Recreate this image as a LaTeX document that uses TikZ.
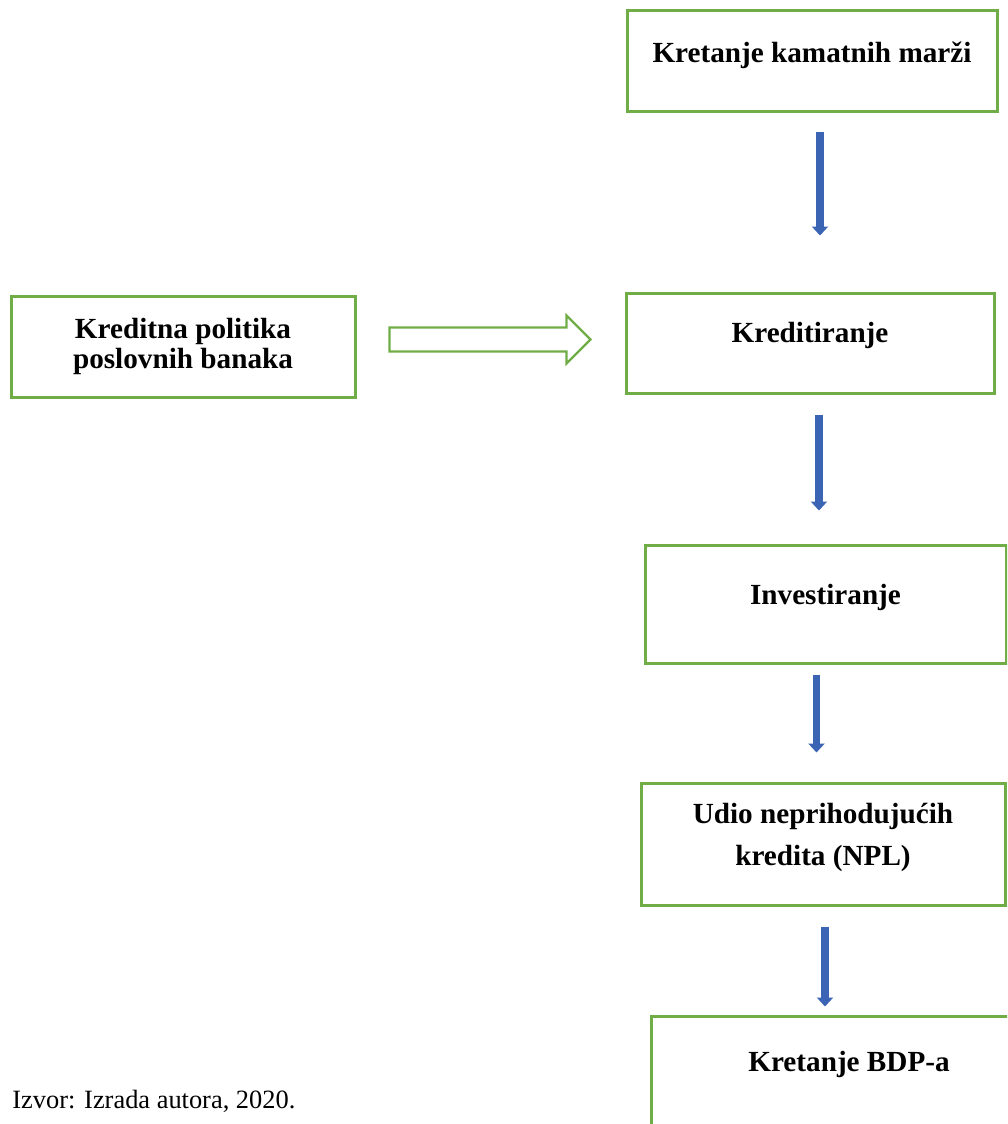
\documentclass[tikz,border=0pt]{standalone}
\usepackage{fontspec}
\setmainfont{Liberation Serif}
\usepackage{xcolor}
\usetikzlibrary{arrows.meta,calc}
\definecolor{boxgreen}{RGB}{112,173,71}
\definecolor{arrblue}{RGB}{60,100,180}

\tikzset{
  flowbox/.style={draw=boxgreen,line width=1.5pt,fill=white,align=center,inner sep=2pt,
    font=\fontsize{14.6}{15}\selectfont\bfseries},
  downarrow/.style={draw=arrblue,line width=3.6pt,-{Triangle[width=8pt,length=4.5pt]}},
  hollowarrow/.style={draw=boxgreen,line width=1.2pt,fill=white,line join=miter}
}

\begin{document}
\begin{tikzpicture}[x=0.5pt,y=-0.5pt]
  \clip (0,0) rectangle (1007,1124);

  % Boxes
  \node[flowbox,minimum width=185pt,minimum height=50.5pt] (marze) at (812,60.5)
    {\raisebox{2.5pt}[\height][\depth]{Kretanje kamatnih marži}};
  \node[flowbox,minimum width=172pt,minimum height=50.5pt] (politika) at (183,346.5) {Kreditna politika\\poslovnih banaka};
  \node[flowbox,minimum width=184pt,minimum height=50pt] (kredit) at (810,343)
    {\raisebox{4pt}[\height][\depth]{Kreditiranje}};
  \node[flowbox,minimum width=180.5pt,minimum height=59pt] (invest) at (825.5,604)
    {\raisebox{3.5pt}[\height][\depth]{Investiranje}};
  \node[flowbox,minimum width=182pt,minimum height=61pt] (npl) at (823,844)
    {\raisebox{3pt}[\height][\depth]{\begin{tabular}{@{}c@{}}Udio neprihodujućih\\[6pt]kredita (NPL)\end{tabular}}};
  \node[flowbox,minimum width=198pt,minimum height=60pt] (bdp) at (849,1076)
    {\raisebox{6pt}[\height][\depth]{Kretanje BDP-a}};

  % Source line
  \node[anchor=west,inner sep=0pt,font=\fontsize{13.2}{15}\selectfont] (izvor) at (12,1101) {Izvor: Izrada autora, 2020.};

  % Blue arrows
  \draw[downarrow,shorten <=9.5pt,shorten >=28pt] ([xshift=4pt]marze.south) -- ([xshift=4pt]marze.south |- kredit.north);
  \draw[downarrow,shorten <=10pt,shorten >=16.5pt] ([xshift=4.5pt]kredit.south) -- ([xshift=4.5pt]kredit.south |- invest.north);
  \draw[downarrow,shorten <=5pt,shorten >=14.5pt] ([xshift=-4.5pt]invest.south) -- ([xshift=-4.5pt]invest.south |- npl.north);
  \draw[downarrow,shorten <=10pt,shorten >=4pt] ([xshift=1pt]npl.south) -- ([xshift=1pt]npl.south |- bdp.north);

  % Green arrow
  \coordinate (gs) at ([xshift=16.5pt,yshift=3.5pt]politika.east);
  \coordinate (ge) at ([xshift=-17pt]kredit.west |- gs);
  \draw[hollowarrow] ($(gs)+(0pt,6pt)$) -- ($(ge)+(-12pt,6pt)$) -- ($(ge)+(-12pt,12pt)$) -- (ge)
    -- ($(ge)+(-12pt,-12pt)$) -- ($(ge)+(-12pt,-6pt)$) -- ($(gs)+(0pt,-6pt)$) -- cycle;
\end{tikzpicture}
\end{document}
